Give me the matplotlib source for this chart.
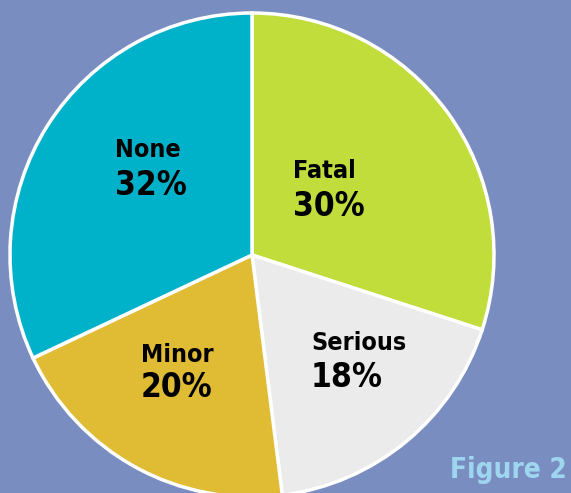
import matplotlib.pyplot as plt

# injury severity shares
labels = ["Fatal", "Serious", "Minor", "None"]
shares = [30, 18, 20, 32]
colors = ["#c0dd3b", "#ebebeb", "#e0bc35", "#00b2c9"]

# label baselines in pixels from top-left (x left, name baseline, pct baseline)
label_pos = {
    "Fatal": (293, 178, 216),
    "Serious": (311, 350, 387),
    "Minor": (141, 362, 397),
    "None": (115, 157, 195),
}

W, H = 571, 493
bg = "#7a8dc0"
font = ["Liberation Sans Narrow", "DejaVu Sans"]

fig = plt.figure(figsize=(W / 100, H / 100), dpi=100, facecolor=bg)
ax = fig.add_axes([0, 0, 1, 1])
ax.set_facecolor(bg)

ax.pie(shares, colors=colors, startangle=90, counterclock=False,
       center=(252, H - 255), radius=242, frame=True,
       wedgeprops=dict(edgecolor="white", linewidth=2.5))
ax.set_xlim(0, W)
ax.set_ylim(0, H)
ax.set_aspect("equal")
ax.axis("off")

for lab, val in zip(labels, shares):
    x, y1, y2 = label_pos[lab]
    ax.text(x, H - y1, lab, family=font, fontweight="bold", fontsize=18,
            fontstretch="condensed", ha="left", va="baseline", color="black")
    ax.text(x, H - y2, f"{val}%", family=font, fontweight="bold", fontsize=24,
            fontstretch="condensed", ha="left", va="baseline", color="black")

fig.text(567 / W, 1 - 478 / H, "Figure 2", family=font, fontweight="bold",
         fontstretch="condensed", fontsize=20, color="#9ed6f0",
         ha="right", va="baseline")

fig.savefig("out.png", dpi=100, facecolor=bg)
